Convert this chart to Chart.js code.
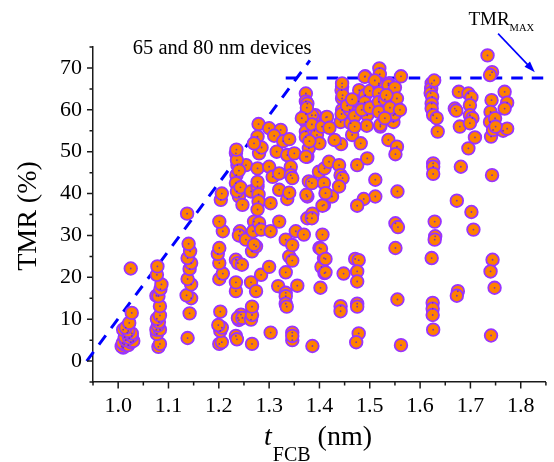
<!DOCTYPE html>
<html>
<head>
<meta charset="utf-8">
<script src="https://cdn.jsdelivr.net/npm/chart.js@4.4.1/dist/chart.umd.min.js"></script>
<style>
  html, body { margin: 0; padding: 0; background: #fff; }
  #wrap { width: 554px; height: 462px; }
</style>
</head>
<body>
<div id="wrap"><canvas id="c" width="554" height="462"></canvas></div>
<script>
// Free-layer thickness t_FCB (nm) of each device, grouped roughly by wafer column
const tFCB = [
  // ~1.02 nm
  1.010,1.007,1.012,1.009,1.020,1.025,1.030,1.015,1.013,1.022,1.027,1.027,1.018,1.010,1.020,1.015,1.022,1.027,1.025,
  // ~1.08 nm
  1.080,1.083,1.077,1.076,1.083,1.079,1.081,1.077,1.083,1.083,1.076,1.080,1.084,1.086,1.077,1.078,
  // ~1.14 nm
  1.138,1.142,1.145,1.136,1.145,1.138,1.142,1.145,1.138,1.143,1.140,1.137,
  // ~1.20 nm
  1.201,1.206,1.203,1.206,1.199,1.203,1.201,1.208,1.201,1.198,1.201,1.208,1.201,1.204,1.206,
  // ~1.24 nm
  1.234,1.236,1.240,1.244,1.238,1.247,1.234,1.234,1.234,1.238,1.246,1.242,1.240,1.254,1.240,1.247,1.235,1.234,1.236,1.237,1.234,1.254,1.236,1.235,1.240,1.243,
  // ~1.27 nm
  1.264,1.266,1.266,1.266,1.264,1.274,1.266,1.274,1.270,1.270,1.268,1.280,1.284,1.284,1.264,1.277,1.279,1.279,1.277,1.277,1.277,1.280,1.279,1.277,1.285,1.270,
  // ~1.30-1.35 nm
  1.303,1.303,1.303,1.300,1.300,1.307,1.320,1.320,1.320,1.318,1.300,1.323,1.310,1.315,1.333,1.333,1.333,1.333,1.333,1.335,
  1.336,1.340,1.336,1.343,1.343,1.346,1.340,1.346,1.353,1.346,1.346,1.346,1.350,1.346,1.328,1.340,
  // ~1.36-1.42 nm
  1.356,1.369,1.376,1.386,1.376,1.379,1.376,1.374,1.385,1.379,1.373,1.386,1.399,1.409,1.409,1.404,1.409,1.400,1.410,1.402,
  1.406,1.403,1.412,1.412,1.406,1.410,1.419,1.425,1.412,1.373,1.373,1.376,1.373,1.373,1.373,1.373,1.392,1.413,1.390,1.385,
  1.375,1.385,1.395,1.400,1.380,1.405,1.365,1.385,
  // ~1.44-1.50 nm
  1.439,1.442,1.446,1.439,1.442,1.415,1.443,1.430,1.420,1.445,1.444,1.445,1.445,1.444,1.446,1.445,1.462,1.465,1.460,1.479,
  1.478,1.482,1.475,1.491,1.490,1.495,1.494,1.491,1.490,1.495,1.511,1.511,1.488,1.475,1.471,1.478,1.475,1.475,1.448,1.442,
  1.442,1.475,1.475,1.478,1.473,1.470,1.455,1.470,1.484,1.500,1.500,1.465,
  // ~1.52-1.56 nm
  1.519,1.520,1.518,1.537,1.518,1.537,1.550,1.554,1.518,1.518,1.518,1.521,1.521,1.547,1.547,1.550,1.537,1.554,1.551,1.562,
  1.555,1.551,1.556,1.551,1.555,1.562,1.530,1.540,1.533,1.560,1.530,1.510,
  // ~1.62 nm
  1.623,1.622,1.621,1.624,1.623,1.623,1.626,1.633,1.635,1.626,1.626,1.626,1.629,1.630,1.629,1.623,1.625,1.625,1.625,1.626,1.628,
  // ~1.69 nm
  1.677,1.696,1.702,1.669,1.672,1.699,1.699,1.704,1.679,1.699,1.709,1.696,1.681,1.673,1.702,1.706,1.675,1.673,
  // ~1.75 nm
  1.734,1.743,1.739,1.742,1.740,1.739,1.749,1.741,1.745,1.768,1.773,1.768,1.765,1.773,1.743,1.744,1.740,1.748,1.741,1.750
];

// Measured TMR (%) for the same devices, in the same order
const tmr = [
  3.2,3.5,4.0,4.3,3.8,4.5,4.8,5.0,5.7,5.5,6.0,6.6,6.8,7.5,7.2,8.0,9.1,11.5,22.1,
  3.4,4.1,6.5,7.5,7.5,8.5,9.3,10.1,10.9,13.1,15.6,15.5,17.2,18.3,20.6,22.6,
  5.5,11.4,15.0,15.7,18.3,19.6,22.0,23.4,24.6,26.2,28.0,35.2,
  4.1,4.5,7.2,8.0,8.6,11.8,19.6,20.9,23.4,25.6,27.0,31.0,33.3,38.5,40.0,
  6.0,5.2,9.8,11.1,10.3,10.3,16.7,18.8,24.2,23.4,23.0,31.0,30.0,29.0,39.3,37.3,44.4,42.5,40.5,46.8,49.6,46.8,48.0,50.5,45.5,41.5,
  9.9,11.0,13.0,4.1,18.8,16.7,26.2,27.4,27.8,33.3,31.0,33.0,31.4,20.6,40.5,41.7,39.8,38.1,36.2,46.0,42.8,49.6,56.6,53.6,51.0,52.0,
  6.8,37.7,31.0,22.5,46.4,44.0,44.8,40.9,33.3,17.9,55.6,55.2,53.8,50.0,29.0,21.2,16.3,15.5,13.7,13.0,
  38.7,40.2,49.2,46.4,44.4,43.7,25.0,24.0,31.0,27.7,6.8,5.0,49.6,6.0,52.5,53.0,
  18.0,30.2,34.1,35.2,48.8,42.9,39.3,39.7,42.5,50.8,48.8,3.6,45.2,42.5,37.3,22.5,24.6,27.0,21.0,17.5,
  30.2,26.8,24.4,21.2,37.1,46.0,47.6,39.3,40.1,63.9,62.0,61.5,59.0,57.1,54.8,53.5,58.7,58.2,55.0,58.7,
  60.5,56.5,54.0,52.0,52.5,56.0,58.0,34.1,
  46.8,44.4,43.7,41.7,57.1,58.3,51.8,52.8,55.7,65.5,64.7,62.7,60.0,59.0,63.5,66.3,56.8,54.0,60.0,64.7,
  62.0,52.0,46.8,63.5,61.8,58.7,56.2,68.0,67.9,48.4,43.3,39.3,38.7,37.1,24.4,24.1,21.4,19.0,20.9,13.1,
  11.9,13.7,13.0,6.6,4.5,58.5,61.0,56.0,60.0,60.5,64.5,62.5,
  69.9,68.5,66.3,66.3,65.9,65.9,65.3,62.7,64.0,61.9,59.5,56.0,56.4,57.1,58.7,59.0,52.8,51.2,49.4,68.0,
  40.5,32.9,32.0,27.0,14.7,3.8,62.5,60.5,63.5,60.0,58.0,67.0,
  66.3,65.1,64.0,63.1,61.5,60.3,58.7,58.0,54.8,47.2,46.4,44.7,33.3,29.8,29.0,24.6,13.9,12.5,11.0,7.5,67.0,
  64.3,63.9,63.0,60.3,59.8,61.1,58.7,58.0,56.0,56.8,53.4,50.8,46.4,38.3,35.6,31.4,16.7,15.6,
  73.0,69.0,68.3,62.3,59.5,57.1,58.0,53.6,55.2,64.3,61.7,60.3,55.0,55.5,44.4,24.2,21.4,17.5,6.1,56.0
];

// Guide lines: onset slope for the 65/80 nm devices and the TMR ceiling
const slopeX = [0.9375, 1.381];
const slopeY = [0, 71.8];
const ceilX  = [1.333, 1.862];
const ceilY  = [67.6, 67.6];

// Axis ticks
const xTicks = [1.0, 1.1, 1.2, 1.3, 1.4, 1.5, 1.6, 1.7, 1.8];
const xMinor = [0.95, 1.05, 1.15, 1.25, 1.35, 1.45, 1.55, 1.65, 1.75, 1.85];
const yTicks = [0, 10, 20, 30, 40, 50, 60, 70];
const yMinor = [-5, 5, 15, 25, 35, 45, 55, 65, 75];

const SERIF = '"Liberation Serif", "Times New Roman", serif';
const BLUE = '#0000ff';
const AXIS = '#1a1a1a';

const devices = tFCB.map((x, i) => ({ x, y: tmr[i] }));
const toXY = (xs, ys) => xs.map((x, i) => ({ x, y: ys[i] }));

// Tick marks, axis titles and annotations
const decor = {
  id: 'decor',
  afterDraw(chart) {
    const { ctx, scales: { x, y }, chartArea: a } = chart;
    ctx.save();
    ctx.strokeStyle = AXIS;
    ctx.lineWidth = 1.5;
    ctx.beginPath();
    yTicks.forEach(v => { const p = y.getPixelForValue(v); ctx.moveTo(a.left, p); ctx.lineTo(a.left - 6, p); });
    yMinor.forEach(v => { const p = y.getPixelForValue(v); ctx.moveTo(a.left, p); ctx.lineTo(a.left - 3.5, p); });
    xTicks.forEach(v => { const p = x.getPixelForValue(v); ctx.moveTo(p, a.bottom); ctx.lineTo(p, a.bottom + 6.5); });
    xMinor.forEach(v => { const p = x.getPixelForValue(v); ctx.moveTo(p, a.bottom); ctx.lineTo(p, a.bottom + 3.5); });
    ctx.stroke();

    ctx.fillStyle = '#000';
    // y title
    ctx.save();
    ctx.translate(35.5, 216);
    ctx.rotate(-Math.PI / 2);
    ctx.font = '28px ' + SERIF;
    ctx.textAlign = 'center';
    ctx.textBaseline = 'alphabetic';
    ctx.fillText('TMR (%)', 0, 0);
    ctx.restore();

    // x title: t_FCB (nm)
    ctx.textAlign = 'left';
    ctx.textBaseline = 'alphabetic';
    let tx = 264, base = 445;
    ctx.font = 'italic 28px ' + SERIF;
    ctx.fillText('t', tx, base);
    tx += ctx.measureText('t').width + 1;
    ctx.font = '20px ' + SERIF;
    ctx.fillText('FCB', tx, base + 16);
    tx += ctx.measureText('FCB').width;
    ctx.font = '28px ' + SERIF;
    ctx.fillText(' (nm)', tx, base);

    // annotation text
    ctx.font = '20.5px ' + SERIF;
    ctx.fillText('65 and 80 nm devices', x.getPixelForValue(1.029), y.getPixelForValue(73.4));

    const mx = x.getPixelForValue(1.696), my = y.getPixelForValue(80.2);
    ctx.font = '19px ' + SERIF;
    ctx.fillText('TMR', mx, my);
    const mw = ctx.measureText('TMR').width;
    ctx.font = '10.5px ' + SERIF;
    ctx.fillText('MAX', mx + mw, my + 5.5);

    // arrow pointing at the ceiling line
    const x0 = x.getPixelForValue(1.755), y0 = y.getPixelForValue(78.2);
    const x1 = x.getPixelForValue(1.828), y1 = y.getPixelForValue(69.0);
    const ang = Math.atan2(y1 - y0, x1 - x0);
    ctx.strokeStyle = BLUE;
    ctx.fillStyle = BLUE;
    ctx.lineWidth = 1.6;
    ctx.beginPath();
    ctx.moveTo(x0, y0);
    ctx.lineTo(x1 - 8 * Math.cos(ang), y1 - 8 * Math.sin(ang));
    ctx.stroke();
    ctx.beginPath();
    ctx.moveTo(x1, y1);
    ctx.lineTo(x1 - 11 * Math.cos(ang) + 3.8 * Math.sin(ang), y1 - 11 * Math.sin(ang) - 3.8 * Math.cos(ang));
    ctx.lineTo(x1 - 11 * Math.cos(ang) - 3.8 * Math.sin(ang), y1 - 11 * Math.sin(ang) + 3.8 * Math.cos(ang));
    ctx.closePath();
    ctx.fill();
    ctx.restore();
  }
};

const guide = (data) => ({
  data,
  showLine: true,
  borderColor: BLUE,
  borderWidth: 3,
  borderDash: [11.5, 9],
  pointRadius: 0,
  fill: false,
  clip: false,
  order: 3
});

new Chart(document.getElementById('c'), {
  type: 'scatter',
  data: {
    datasets: [
      guide(toXY(slopeX, slopeY)),
      guide(toXY(ceilX, ceilY)),
      {
        data: devices,
        pointRadius: 6.3,
        pointBackgroundColor: '#ff8000',
        pointBorderColor: '#9933ff',
        pointBorderWidth: 1.8,
        order: 2
      },
      {
        data: devices,
        pointRadius: 0.9,
        pointBackgroundColor: '#7a2cc0',
        pointBorderWidth: 0,
        order: 1
      }
    ]
  },
  options: {
    responsive: false,
    animation: false,
    events: [],
    layout: { padding: { top: 47, right: 6, left: 0, bottom: 0 } },
    plugins: { legend: { display: false }, tooltip: { enabled: false } },
    scales: {
      x: {
        type: 'linear',
        min: 0.95,
        max: 1.85,
        afterBuildTicks: s => { s.ticks = xTicks.map(v => ({ value: v })); },
        afterFit: s => { s.height = 80; },
        grid: { display: false },
        border: { color: AXIS, width: 1.5 },
        ticks: {
          padding: 3,
          color: '#000',
          font: { family: SERIF, size: 22 },
          maxRotation: 0,
          autoSkip: false,
          callback: v => v.toFixed(1)
        }
      },
      y: {
        type: 'linear',
        min: -5,
        max: 75,
        afterBuildTicks: s => { s.ticks = yTicks.map(v => ({ value: v })); },
        afterFit: s => { s.width = 93; },
        grid: { display: false },
        border: { color: AXIS, width: 1.5 },
        ticks: {
          padding: 3,
          color: '#000',
          font: { family: SERIF, size: 22 },
          autoSkip: false,
          callback: v => String(v)
        }
      }
    }
  },
  plugins: [decor]
});
</script>
</body>
</html>
